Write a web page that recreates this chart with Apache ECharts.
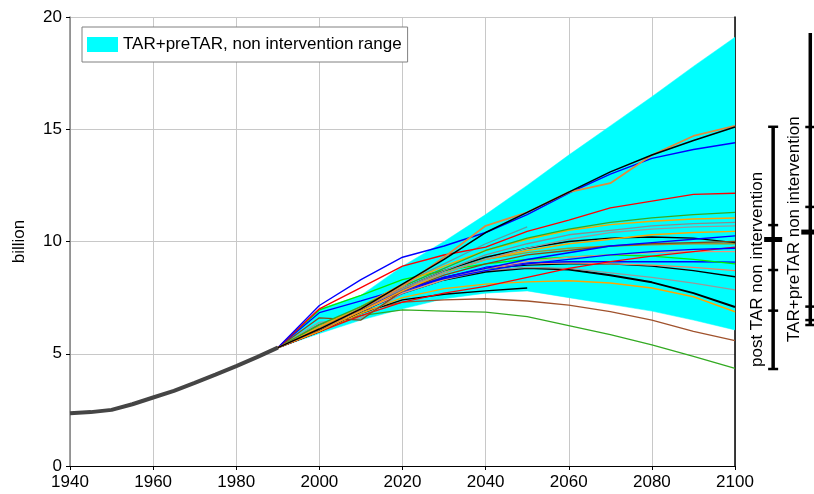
<!DOCTYPE html>
<html>
<head>
<meta charset="utf-8">
<script src="https://cdn.jsdelivr.net/npm/echarts@6/dist/echarts.min.js"></script>
<style>html,body{margin:0;padding:0;background:#fff}#c{width:814px;height:494px}</style>
</head>
<body>
<div id="c"></div>
<script>
// ---------- data ----------
const histYears = [1940,1945,1950,1955,1960,1965,1970,1975,1980,1985,1990];
const histValues = [2.35,2.4,2.5,2.75,3.05,3.35,3.7,4.07,4.45,4.85,5.27];

const years = [1990,2000,2010,2020,2030,2040,2050,2060,2070,2080,2090,2100];
const bandLower = [5.27,5.9,6.5,7.0,7.45,7.7,7.8,7.5,7.2,6.9,6.5,6.06];
const bandUpper = [5.27,7.0,7.6,8.9,10.0,11.2,12.5,13.85,15.15,16.45,17.8,19.1];

const blackHigh  = [5.27,6.1,7.0,8.1,9.2,10.4,11.3,12.2,13.1,13.85,14.5,15.1];
const peruHigh   = [5.27,6.1,7.0,8.0,9.3,10.7,11.3,12.2,12.6,13.85,14.7,15.15];
const blueHigh   = [5.27,7.15,8.3,9.3,9.8,10.4,11.2,12.15,13.0,13.7,14.1,14.4];
const redHigh    = [5.27,7.0,7.95,8.9,9.4,9.75,10.45,10.95,11.5,11.8,12.1,12.15];
const greenHigh  = [5.27,6.3,7.1,8.0,8.8,9.6,10.15,10.55,10.85,11.05,11.2,11.3];
const orangeA    = [5.27,6.2,7.1,8.1,8.9,9.6,10.1,10.5,10.75,10.9,11.0,11.05];
const grayA      = [5.27,6.1,7.0,7.9,8.7,9.4,9.9,10.3,10.5,10.7,10.8,10.85];
const grayB      = [5.27,6.1,7.0,7.9,8.6,9.2,9.7,10.1,10.4,10.55,10.65,10.7];
const orangeB    = [5.27,6.0,6.9,7.8,8.6,9.2,9.6,9.9,10.1,10.3,10.4,10.45];
const blueRise   = [5.27,6.1,7.0,7.8,8.4,8.8,9.2,9.5,9.8,9.95,10.1,10.25];
const brownMid   = [5.27,6.6,6.5,7.8,8.5,9.0,9.4,9.6,9.8,9.9,9.95,10.0];
const blackMid   = [5.27,6.1,7.0,7.9,8.7,9.3,9.7,10.0,10.15,10.2,10.15,9.95];
const blue2000   = [5.27,6.83,7.35,7.9,8.35,8.7,9.0,9.2,9.4,9.55,9.65,9.7];
const redRise    = [5.27,5.98,6.7,7.3,7.7,8.0,8.4,8.8,9.1,9.35,9.55,9.75];
const salmonA    = [5.27,6.1,6.9,7.7,8.3,8.8,9.1,9.3,9.4,9.5,9.55,9.55];
const limeA      = [5.27,6.95,7.6,8.3,8.7,9.0,9.2,9.3,9.4,9.35,9.2,9.0];
const blueFlat   = [5.27,6.0,6.9,7.7,8.4,8.85,9.05,9.1,9.1,9.1,9.1,9.08];
const salmonB    = [5.27,6.1,7.0,7.8,8.4,8.8,9.0,9.05,9.0,8.95,8.85,8.7];
const blackThin  = [5.27,6.0,6.9,7.8,8.4,8.8,8.95,9.0,9.0,8.9,8.7,8.43];
const grayC      = [5.27,6.4,6.6,7.7,8.3,8.7,8.85,8.8,8.6,8.4,8.15,7.85];
const blackDown  = [5.27,6.0,6.9,7.7,8.3,8.65,8.82,8.75,8.5,8.18,7.7,7.08];
const orangeLow  = [5.27,6.0,6.8,7.5,7.9,8.1,8.2,8.25,8.15,7.93,7.54,6.87];
const oliveMid   = [5.27,6.2,7.0,7.9,8.6,9.2,9.5,9.7,9.8,9.85,9.9,9.9];
const blackShort = [5.27,6.0,6.8,7.4,7.65,7.8,7.93,null,null,null,null,null];
const tealShort  = [5.27,6.2,7.1,8.1,9.0,9.9,10.65,null,null,null,null,null];
const brownLow   = [5.27,6.3,6.9,7.3,7.4,7.45,7.35,7.17,6.88,6.5,6.0,5.58];
const greenLow   = [5.27,6.1,6.7,6.95,6.9,6.85,6.65,6.25,5.85,5.4,4.88,4.35];

const xTicks = [1940,1960,1980,2000,2020,2040,2060,2080,2100];
const yTicks = [0,5,10,15,20];

const rangeNames  = ['post TAR non intervention','TAR+preTAR non intervention'];
const rangeLow    = [4.32, 6.28];
const rangeHigh   = [15.11, 19.29];
const rangeTicks  = [[6.92, 8.73, 10.73], [6.5, 7.1, 11.54, 15.1]];
const rangeMedian = [10.09, 10.42];

const bandName = 'TAR+preTAR, non intervention range';

// ---------- build ----------
const pairs = (xs, ys) => xs.map((x, i) => [x, ys[i]]);
const scenarios = [
  ['greenLow', greenLow, '#33aa22', 1.3],
  ['brownLow', brownLow, '#a0522d', 1.3],
  ['blackShort', blackShort, '#000000', 1.4],
  ['tealShort', tealShort, '#5f9ea0', 1.3],
  ['orangeLow', orangeLow, '#ffa500', 1.4],
  ['blackDown', blackDown, '#000000', 2],
  ['grayC', grayC, '#999999', 1.3],
  ['blackThin', blackThin, '#000000', 1.3],
  ['salmonB', salmonB, '#f08060', 1.3],
  ['blueFlat', blueFlat, '#0000ff', 1.4],
  ['limeA', limeA, '#00ee00', 1.3],
  ['salmonA', salmonA, '#e9967a', 1.3],
  ['redRise', redRise, '#ff0000', 1.3],
  ['blue2000', blue2000, '#0000ff', 1.3],
  ['oliveMid', oliveMid, '#9a9a30', 1.3],
  ['blackMid', blackMid, '#000000', 1.4],
  ['brownMid', brownMid, '#8b4513', 1.3],
  ['blueRise', blueRise, '#0000ff', 1.4],
  ['orangeB', orangeB, '#ffa500', 1.4],
  ['grayB', grayB, '#999999', 1.3],
  ['grayA', grayA, '#8c8c8c', 1.3],
  ['orangeA', orangeA, '#ffa500', 1.4],
  ['greenHigh', greenHigh, '#33aa22', 1.3],
  ['redHigh', redHigh, '#ff0000', 1.4],
  ['blueHigh', blueHigh, '#0000ff', 1.4],
  ['peruHigh', peruHigh, '#e08a3c', 1.8],
  ['blackHigh', blackHigh, '#000000', 1.5]
];

const FONT = '"Liberation Sans", Arial, sans-serif';

const series = [
  {
    name: bandName, type: 'custom', silent: true, clip: true, z: 1,
    itemStyle: { color: '#00ffff' },
    data: years.map((y, i) => [y, bandLower[i], bandUpper[i]]),
    encode: { x: 0, y: [1, 2] },
    renderItem: function (params, api) {
      if (params.dataIndex !== 0) return null;
      const pts = [];
      years.forEach((y, i) => pts.push(api.coord([y, bandUpper[i]])));
      for (let i = years.length - 1; i >= 0; i--) pts.push(api.coord([years[i], bandLower[i]]));
      return { type: 'polygon', shape: { points: pts }, style: { fill: '#00ffff', stroke: '#00ffff', lineWidth: 0.5 } };
    }
  },
  {
    name: 'history', type: 'line', symbol: 'none', silent: true,
    data: pairs(histYears, histValues),
    lineStyle: { color: '#454545', width: 4 }, z: 3
  }
];
scenarios.forEach(([n, vals, col, w]) => {
  series.push({
    name: n, type: 'line', symbol: 'none', silent: true, connectNulls: false,
    data: pairs(years, vals), lineStyle: { color: col, width: w }, z: 2
  });
});

series.push({
  name: 'ranges', type: 'custom', xAxisIndex: 1, yAxisIndex: 2, silent: true, clip: false,
  data: rangeNames.map((n, i) => [i, rangeLow[i], rangeHigh[i]]),
  renderItem: function (params, api) {
    const i = params.dataIndex;
    const lo = api.coord([i, api.value(1)]);
    const hi = api.coord([i, api.value(2)]);
    const x = lo[0];
    const children = [];
    children.push({ type: 'line', shape: { x1: x, y1: lo[1], x2: x, y2: hi[1] }, style: { stroke: '#000', lineWidth: 3.5 } });
    const caps = [api.value(1)];
    if (i === 0) caps.push(api.value(2));
    caps.concat(rangeTicks[i]).forEach(v => {
      const p = api.coord([i, v]);
      children.push({ type: 'line', shape: { x1: x - 5, y1: p[1], x2: x + 5, y2: p[1] }, style: { stroke: '#000', lineWidth: 2.5 } });
    });
    const m = api.coord([i, rangeMedian[i]]);
    children.push({ type: 'line', shape: { x1: x - 9, y1: m[1], x2: x + 9, y2: m[1] }, style: { stroke: '#000', lineWidth: 5 } });
    const textOffset = [[-16, -2], [-16, 17]][i];
    children.push({
      type: 'text', x: x + textOffset[0], y: lo[1] + textOffset[1], rotation: Math.PI / 2,
      style: { text: rangeNames[i], fill: '#000', font: '17px ' + FONT, textAlign: 'left', textVerticalAlign: 'middle' }
    });
    return { type: 'group', children: children };
  }
});

const option = {
  animation: false,
  textStyle: { fontFamily: FONT },
  grid: [
    { left: 70, right: 79, top: 17, bottom: 28 },
    { left: 736, right: 0, top: 17, bottom: 28 }
  ],
  legend: {
    data: [{ name: bandName, icon: 'rect', itemStyle: { color: '#00ffff' } }],
    left: 82, top: 27, orient: 'vertical',
    padding: [9, 6, 9, 5], itemWidth: 31, itemHeight: 15, itemGap: 5,
    borderColor: '#808080', borderWidth: 1, borderRadius: 0, backgroundColor: '#ffffff',
    textStyle: { fontSize: 17, color: '#000', fontFamily: FONT }
  },
  xAxis: [
    {
      type: 'value', min: xTicks[0], max: xTicks[xTicks.length - 1], interval: 20,
      axisLine: { show: true, lineStyle: { color: '#000', width: 1 } },
      axisTick: { show: true, length: 4, lineStyle: { color: '#000' } },
      axisLabel: { color: '#000', fontSize: 17, margin: 8, fontFamily: FONT, formatter: v => String(v) },
      splitLine: { show: true, lineStyle: { color: '#c8c8c8', width: 1 } }
    },
    { type: 'value', gridIndex: 1, min: -1, max: 1.1, show: false }
  ],
  yAxis: [
    {
      type: 'value', min: yTicks[0], max: yTicks[yTicks.length - 1], interval: 5,
      name: 'billion', nameLocation: 'middle', nameGap: 42, nameRotate: 90,
      nameTextStyle: { fontSize: 17, color: '#000', fontFamily: FONT },
      axisLine: { show: true, lineStyle: { color: '#808080', width: 1.5 } },
      axisTick: { show: true, length: 4, lineStyle: { color: '#000' } },
      axisLabel: { color: '#000', fontSize: 17, margin: 8, fontFamily: FONT },
      splitLine: { show: true, lineStyle: { color: '#c8c8c8', width: 1 } }
    },
    {
      type: 'value', position: 'right', min: 0, max: 20,
      axisLine: { show: true, lineStyle: { color: '#000', width: 1.5 } },
      axisTick: { show: false }, axisLabel: { show: false }, splitLine: { show: false }
    },
    { type: 'value', gridIndex: 1, min: 0, max: 20, show: false }
  ],
  series: series
};
option.series.forEach(s => { if (s.xAxisIndex === undefined) { s.xAxisIndex = 0; s.yAxisIndex = 0; } });

echarts.init(document.getElementById('c'), null, { renderer: 'canvas' }).setOption(option);
</script>
</body>
</html>
